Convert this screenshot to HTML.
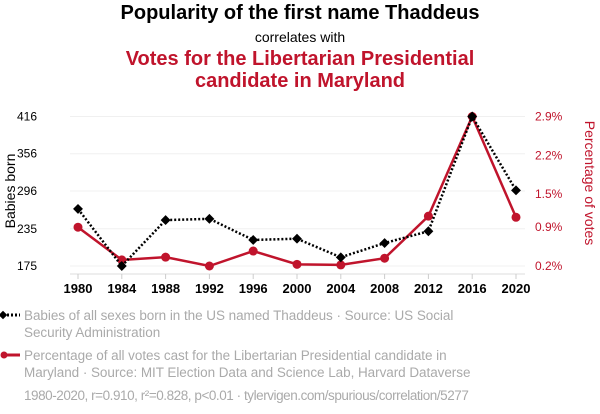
<!DOCTYPE html>
<html><head><meta charset="utf-8"><style>
body{margin:0;background:#fff;font-family:"Liberation Sans",sans-serif;}
#wrap{position:relative;width:600px;height:414px;overflow:hidden;}
.t{position:absolute;left:0;width:600px;text-align:center;}
.leg{position:absolute;left:24px;font-size:13.5px;letter-spacing:-0.05px;color:#aaa;line-height:17px;width:462px;}
</style></head><body>
<div id="wrap">
<div class="t" style="top:2px;font-size:20px;font-weight:bold;color:#000">Popularity of the first name Thaddeus</div>
<div class="t" style="top:29px;font-size:14px;color:#000">correlates with</div>
<div class="t" style="top:48px;font-size:20px;font-weight:bold;color:#c0142c;line-height:22px">Votes for the Libertarian Presidential<br>candidate in Maryland</div>
<svg id="svg" width="600" height="300" style="position:absolute;left:0;top:0"></svg>
<div class="leg" style="top:307px">Babies of all sexes born in the US named Thaddeus · Source: US Social Security Administration</div>
<div class="leg" style="top:347px">Percentage of all votes cast for the Libertarian Presidential candidate in Maryland · Source: MIT Election Data and Science Lab, Harvard Dataverse</div>
<div class="leg" style="top:387px;width:560px;letter-spacing:-0.45px">1980-2020, r=0.910, r²=0.828, p&lt;0.01 · tylervigen.com/spurious/correlation/5277</div>
<svg width="24" height="60" style="position:absolute;left:0;top:305px">
<line x1="3" y1="10" x2="20" y2="10" stroke="#000" stroke-width="3" stroke-dasharray="2,2"/>
<rect x="0" y="7" width="6" height="6" transform="rotate(45 3 10)" fill="#000"/>
<line x1="3" y1="50" x2="20" y2="50" stroke="#c0142c" stroke-width="3"/>
<circle cx="4" cy="50" r="3.5" fill="#c0142c"/>
</svg>
</div>
<script>
const years=[1980,1984,1988,1992,1996,2000,2004,2008,2012,2016,2020];
const babies=[267,175,249,251,217,219,189,212,231,416,297];
const votes=[0.90,0.31,0.36,0.20,0.47,0.23,0.22,0.34,1.10,2.90,1.08];
const leftTicks=[175,235,296,356,416];
const rightTicks=[0.2,0.9,1.5,2.2,2.9];
const NS="http://www.w3.org/2000/svg";
const svg=document.getElementById('svg');
const x=v=>78+(v-1980)*(516-78)/40;
const yL=v=>266-(v-175)*(266-116.5)/(416-175);
const yR=v=>266-(v-0.2)*(266-116.5)/(2.9-0.2);
function mk(t,a){const e=document.createElementNS(NS,t);for(const k in a)e.setAttribute(k,a[k]);svg.appendChild(e);return e;}
leftTicks.forEach(v=>{
 const g=mk('line',{x1:70,x2:525,y1:yL(v),y2:yL(v),stroke:'#f0f0f0','stroke-width':1});
 
 
 const t=mk('text',{x:37,y:yL(v)+4,'text-anchor':'end','font-size':12,fill:'#000'});t.textContent=v;
 
 
});
rightTicks.forEach(v=>{
 const t=mk('text',{x:535,y:yR(v)+4,'font-size':12,fill:'#c0142c'});t.textContent=v.toFixed(1)+'%';
 
 
});
const ax=mk('line',{x1:70,x2:525,y1:274,y2:274,stroke:'#ddd'});


years.forEach(v=>{
 mk('line',{x1:x(v),x2:x(v),y1:274,y2:279,stroke:'#ccc'});
 const t=mk('text',{x:x(v),y:293,'text-anchor':'middle','font-size':13,'font-weight':'bold',fill:'#000'});t.textContent=v;
 
 
});
const lt=mk('text',{transform:'translate(15,191) rotate(-90)','text-anchor':'middle','font-size':14,fill:'#000'});lt.textContent='Babies born';


const rt=mk('text',{transform:'translate(585,183) rotate(90)','text-anchor':'middle','font-size':14,fill:'#c0142c'});rt.textContent='Percentage of votes';


const rl=mk('polyline',{points:years.map((v,i)=>x(v)+','+yR(votes[i])).join(' '),fill:'none',stroke:'#c0142c','stroke-width':2.5});


years.forEach((v,i)=>{const c=mk('circle',{cx:x(v),cy:yR(votes[i]),r:4.5,fill:'#c0142c'});
 
 });
const bl=mk('polyline',{points:years.map((v,i)=>x(v)+','+yL(babies[i])).join(' '),fill:'none',stroke:'#000','stroke-width':2.5,'stroke-dasharray':'2,2'});


years.forEach((v,i)=>{const r=mk('rect',{x:x(v)-3.5,y:yL(babies[i])-3.5,width:7,height:7,fill:'#000',transform:`rotate(45 ${x(v)} ${yL(babies[i])})`});
 
 });
</script>
</body></html>
